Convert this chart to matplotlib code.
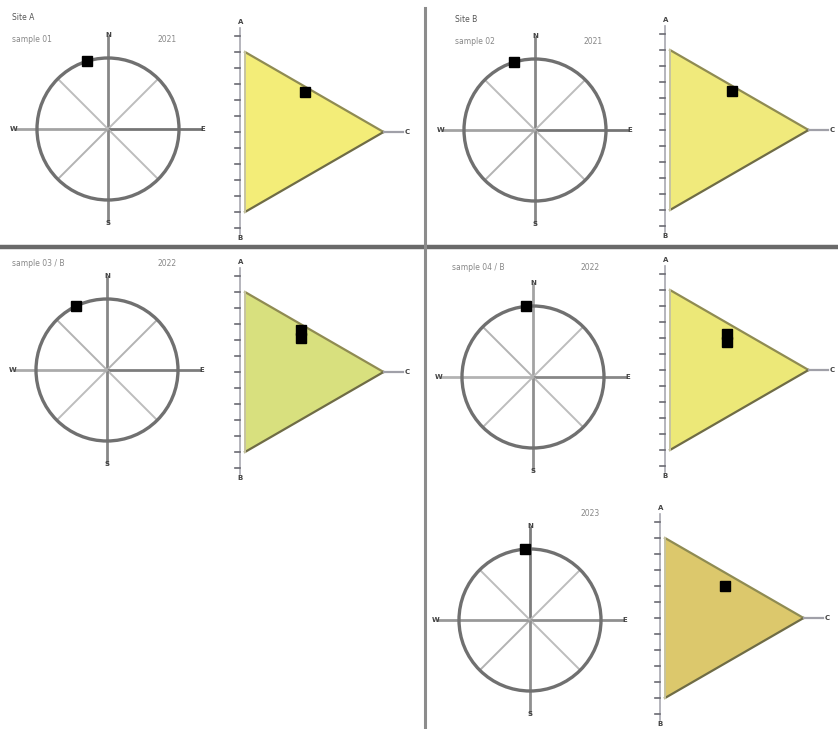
import numpy as np
import matplotlib
matplotlib.use("Agg")
import matplotlib.pyplot as plt
from matplotlib.lines import Line2D
from matplotlib.patches import Circle, Polygon

W, H = 838, 729

# one entry per panel: top-left, top-right, mid-left, mid-right, bottom-right
site_names = ["Site A", "Site B", "", "", ""]
sample_names = ["sample 01", "sample 02", "sample 03 / B", "sample 04 / B", ""]
period_labels = ["2021", "2021", "2022", "2022", "2023"]

# compass bearing of each sample (degrees clockwise from north)
bearings = [343, 343, 334, 354, 356]

# relative weight of the eight spokes N, NE, E, SE, S, SW, W, NW
spoke_weights = [
    [0.60, 0.30, 0.70, 0.30, 0.60, 0.35, 0.45, 0.30],
    [0.60, 0.30, 0.70, 0.30, 0.60, 0.35, 0.45, 0.30],
    [0.60, 0.35, 0.65, 0.30, 0.60, 0.30, 0.40, 0.35],
    [0.45, 0.30, 0.60, 0.30, 0.55, 0.30, 0.35, 0.35],
    [0.65, 0.30, 0.55, 0.30, 0.55, 0.35, 0.50, 0.30],
]
compass_labels = ["N", "E", "S", "W"]

# ternary compositions (top, bottom, right corner) for each sample
tern_top = [[0.53], [0.52], [0.56, 0.51], [0.52, 0.47], [0.485]]
tern_bottom = [[0.035], [0.035], [0.035, 0.085], [0.07, 0.12], [0.085]]
tern_right = [[0.435], [0.445], [0.405, 0.405], [0.41, 0.41], [0.43]]
corner_labels = ["A", "B", "C"]

fill_colors = ["#f3ed78", "#f0ea7c", "#d8e07e", "#ece878", "#dcc86c"]

# panel anchors in pixels: circle centre and triangle top-left corner
circle_centres = [(108, 129), (535, 130), (107, 370), (533, 377), (530, 620)]
tri_corners = [(245, 52), (670, 50), (245, 292), (670, 290), (665, 538)]
text_anchor = [(12, 17), (455, 19), (12, 264), (452, 268), (452, 514)]


def px_box(x0, y0, w, h):
    return [x0 / W, 1 - (y0 + h) / H, w / W, h / H]


fig = plt.figure(figsize=(W / 100, H / 100), dpi=100)

# panel separators
fig.add_artist(Line2D([0.0, 1.0], [1 - 247 / H, 1 - 247 / H],
                      color="#6a6a6a", lw=3.2, transform=fig.transFigure))
fig.add_artist(Line2D([425 / W, 425 / W], [0.0, 1 - 8 / H],
                      color="#8c8c8c", lw=2.2, transform=fig.transFigure))

R_PX = 71
SQ = np.sqrt(3) / 2
TRI_SCALE = 160

for i in range(5):
    cx, cy = circle_centres[i]
    lim = 100 / R_PX
    ax = fig.add_axes(px_box(cx - 100, cy - 100, 200, 200))
    ax.set_xlim(-lim, lim)
    ax.set_ylim(-lim, lim)
    ax.set_aspect("equal")
    ax.axis("off")

    # spokes: cardinal ones reach past the ring, diagonals stay inside
    for k, wgt in enumerate(spoke_weights[i]):
        ang = np.radians(45 * k)
        length = 1.32 if k % 2 == 0 else 1.0
        shade = str(round(0.95 - wgt * 0.7, 2))
        ax.plot([0, np.sin(ang) * length], [0, np.cos(ang) * length],
                color=shade, lw=2.0 if k % 2 == 0 else 1.4,
                solid_capstyle="butt", zorder=1)
    ax.add_patch(Circle((0, 0), 1.0, fill=False, ec="#707070", lw=2.4, zorder=2))
    for k, lab in enumerate(compass_labels):
        ang = np.radians(90 * k)
        ax.text(np.sin(ang) * 1.33, np.cos(ang) * 1.33, lab, fontsize=5,
                color="#444444", ha="center", va="center", fontweight="bold")

    b = np.radians(bearings[i])
    ax.plot(np.sin(b), np.cos(b), "s", color="black", ms=7, zorder=5)

    # ternary triangle with a vertical left side
    tx, ty = tri_corners[i]
    tax = fig.add_axes(px_box(tx - 0.15 * TRI_SCALE, ty - 0.2 * TRI_SCALE,
                              1.2 * TRI_SCALE, 1.4 * TRI_SCALE))
    tax.set_xlim(-0.15, 1.05)
    tax.set_ylim(-0.2, 1.2)
    tax.axis("off")
    tri = Polygon([(0, 1), (0, 0), (SQ, 0.5)], closed=True,
                  fc=fill_colors[i], ec="none", zorder=1)
    tax.add_patch(tri)
    tax.plot([0, SQ], [1, 0.5], color="#8f8b52", lw=1.6, zorder=2)
    tax.plot([0, SQ], [0, 0.5], color="#6f6c45", lw=1.6, zorder=2)
    tax.plot([0, 0], [0, 1], color="#c6c3a0", lw=1.4, zorder=2)
    tax.plot([SQ, 0.99], [0.5, 0.5], color="#a0a0a8", lw=1.6, zorder=2)

    # left scale with tick dashes
    tax.plot([-0.03, -0.03], [-0.14, 1.15], color="#a8a8b0", lw=1.2, zorder=2)
    for yt in np.arange(-0.1, 1.16, 0.1):
        tax.plot([-0.065, -0.03], [yt, yt], color="#6a6a72", lw=1.2, zorder=2)
    tax.text(-0.03, 1.17, corner_labels[0], fontsize=5, color="#444444",
             ha="center", va="bottom", fontweight="bold")
    tax.text(-0.03, -0.165, corner_labels[1], fontsize=5, color="#444444",
             ha="center", va="center", fontweight="bold")
    tax.text(1.0, 0.5, corner_labels[2], fontsize=5, color="#444444",
             ha="left", va="center", fontweight="bold")

    a = np.array(tern_top[i])
    c = np.array(tern_right[i])
    px = c * SQ
    py = a + c * 0.5
    tax.plot(px, py, "s", color="black", ms=7, zorder=5)

    # panel captions
    x0, y0 = text_anchor[i]
    if site_names[i]:
        fig.text(x0 / W, 1 - y0 / H, site_names[i], fontsize=5.5,
                 color="#555555", va="center")
        y_cap = y0 + 22
    else:
        y_cap = y0
    if sample_names[i]:
        fig.text(x0 / W, 1 - y_cap / H, sample_names[i], fontsize=5.5,
                 color="#888888", va="center")
    fig.text((x0 + 145 if x0 < 200 else x0 + 128) / W, 1 - y_cap / H,
             period_labels[i], fontsize=5.5, color="#888888", va="center")

fig.savefig("out.png", dpi=100)
